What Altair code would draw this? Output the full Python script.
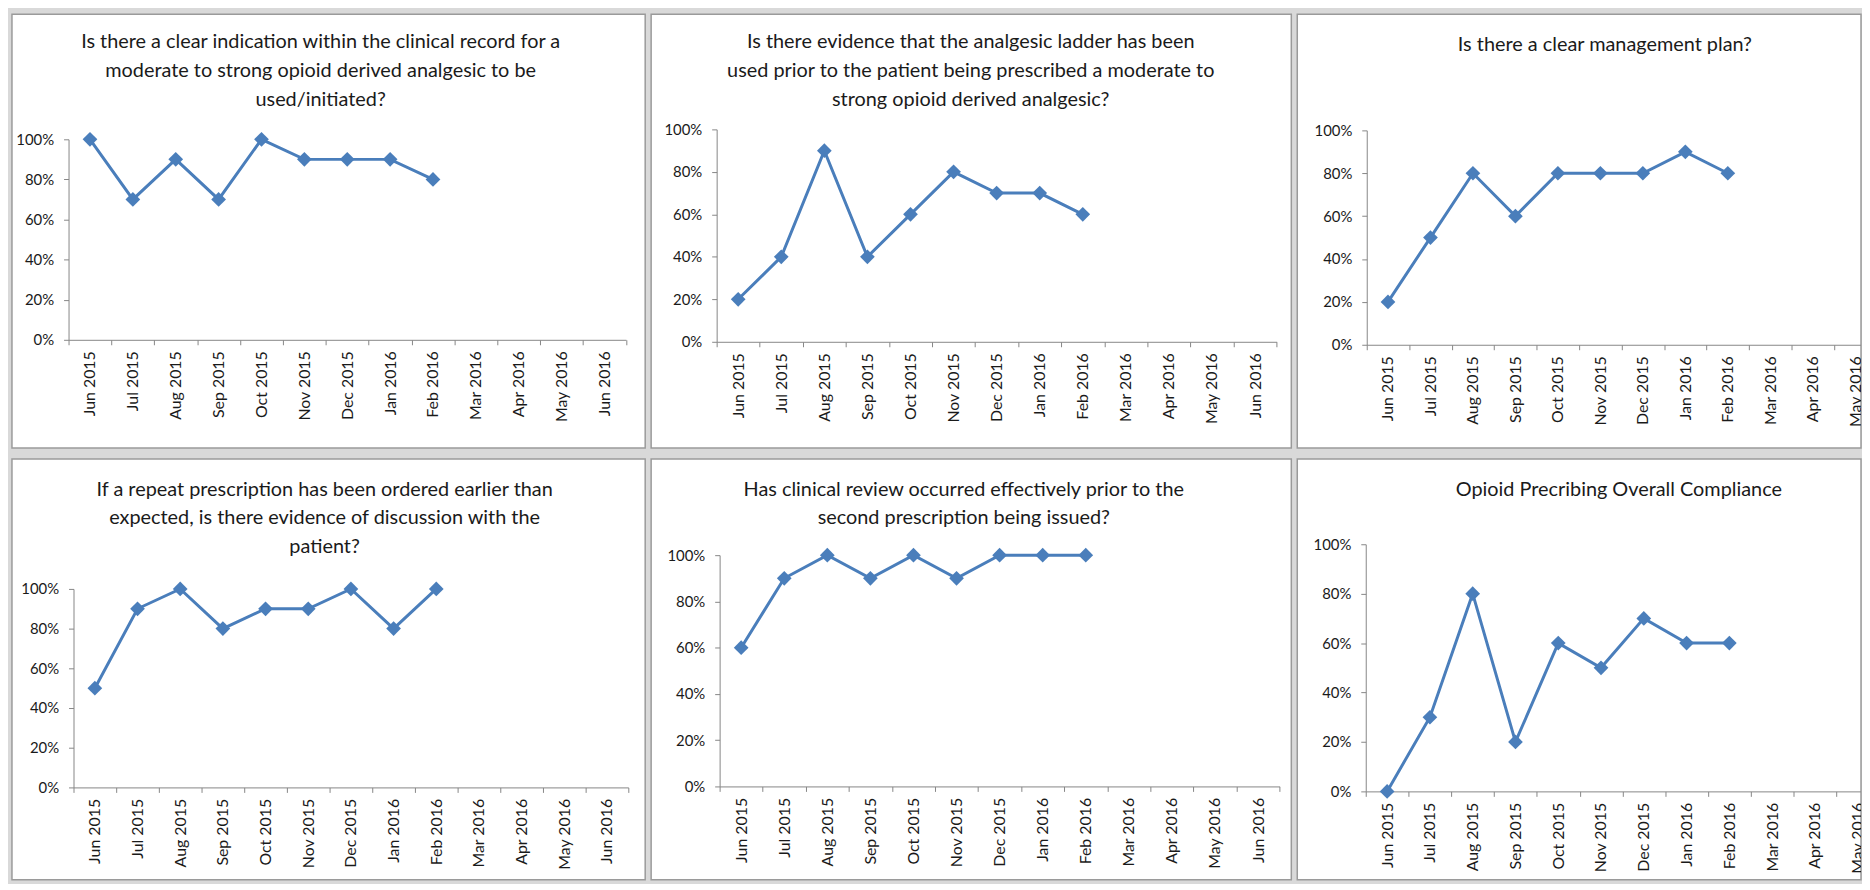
import altair as alt
import pandas as pd

# ---------------- data ----------------
months = ["Jun 2015", "Jul 2015", "Aug 2015", "Sep 2015", "Oct 2015", "Nov 2015",
          "Dec 2015", "Jan 2016", "Feb 2016", "Mar 2016", "Apr 2016", "May 2016", "Jun 2016"]

indication = [1.0, 0.7, 0.9, 0.7, 1.0, 0.9, 0.9, 0.9, 0.8]
ladder = [0.2, 0.4, 0.9, 0.4, 0.6, 0.8, 0.7, 0.7, 0.6]
management = [0.2, 0.5, 0.8, 0.6, 0.8, 0.8, 0.8, 0.9, 0.8]
repeat_discussion = [0.5, 0.9, 1.0, 0.8, 0.9, 0.9, 1.0, 0.8, 1.0]
clinical_review = [0.6, 0.9, 1.0, 0.9, 1.0, 0.9, 1.0, 1.0, 1.0]
overall = [0.0, 0.3, 0.8, 0.2, 0.6, 0.5, 0.7, 0.6, 0.6]

y_ticks = [0, 0.2, 0.4, 0.6, 0.8, 1.0]

titles = [
    ["Is there a clear indication within the clinical record for a",
     "moderate to strong opioid derived analgesic to  be",
     "used/initiated?"],
    ["Is there evidence that the analgesic ladder has  been",
     "used  prior to the patient being prescribed a moderate to",
     "strong opioid derived analgesic?"],
    ["Is there a clear management plan?"],
    ["If a repeat prescription  has been ordered earlier than",
     "expected, is there evidence of discussion with the",
     "patient?"],
    ["Has clinical review occurred effectively prior to the",
     "second prescription being issued?"],
    ["Opioid Precribing Overall Compliance"],
]
series = [indication, ladder, management, repeat_discussion, clinical_review, overall]

# ---------------- layout (pixels, per panel) ----------------
layout = [
    dict(w=638, h=437, x0=57, band=43.2, y100=126, y0=328, tx=311, ty=18),
    dict(w=645, h=437, x0=66, band=43.4, y100=116, y0=330, tx=322, ty=18),
    dict(w=568, h=437, x0=70, band=42.8, y100=117, y0=333, tx=310, ty=21),
    dict(w=638, h=424, x0=62, band=43.0, y100=131, y0=331, tx=315, ty=21),
    dict(w=645, h=424, x0=69, band=43.4, y100=97, y0=330, tx=315, ty=21),
    dict(w=568, h=424, x0=69, band=43.1, y100=86, y0=335, tx=324, ty=21),
]

LINE = "#4a7ebb"
AXIS = "#868686"
TEXT = "#1a1a1a"
FONT = "Lato"


def panel(title, values, L):
    df = pd.DataFrame({"month": months[:len(values)], "value": values})
    x = alt.X(
        "month:N",
        sort=months,
        scale=alt.Scale(type="band", domain=months,
                        range=[L["x0"], L["x0"] + 13 * L["band"]],
                        paddingInner=0, paddingOuter=0),
        axis=alt.Axis(title=None, labelAngle=-90, tickBand="extent",
                      offset=L["y0"] - L["h"], tickSize=5, labelPadding=6,
                      labelOverlap=False, domainColor=AXIS, tickColor=AXIS,
                      labelColor=TEXT, labelFont=FONT, labelFontSize=16,
                      grid=False),
    )
    y = alt.Y(
        "value:Q",
        scale=alt.Scale(domain=[0, 1], range=[L["y0"], L["y100"]], nice=False),
        axis=alt.Axis(title=None, values=y_ticks, format=".0%",
                      offset=-L["x0"], tickSize=5, labelPadding=10,
                      domainColor=AXIS, tickColor=AXIS, labelColor=TEXT,
                      labelFont=FONT, labelFontSize=15, grid=False),
    )
    base = alt.Chart(df).encode(x=x, y=y)
    line = base.mark_line(color=LINE, strokeWidth=3)
    pts = base.mark_point(shape="diamond", filled=True, size=220, color=LINE, opacity=1)
    head = alt.Chart(pd.DataFrame({"n": [0]})).mark_text(
        text=title, align="center", baseline="top", lineHeight=29,
        font=FONT, fontSize=20, color=TEXT,
    ).encode(x=alt.value(L["tx"]), y=alt.value(L["ty"]))
    return alt.layer(line, pts, head).properties(width=L["w"], height=L["h"])


panels = [panel(t, s, L) for t, s, L in zip(titles, series, layout)]

row1 = alt.hconcat(*panels[:3], spacing=4)
row2 = alt.hconcat(*panels[3:], spacing=4)

chart = alt.vconcat(row1, row2, spacing=9).properties(
    background="#d9d9d9",
    padding={"left": 3, "top": 2, "right": 0, "bottom": 0},
).configure_view(
    fill="white", stroke="#9a9a9a", strokeWidth=1.5, clip=True
)

chart.save("out.html", embed_options={"renderer": "svg", "actions": False})
